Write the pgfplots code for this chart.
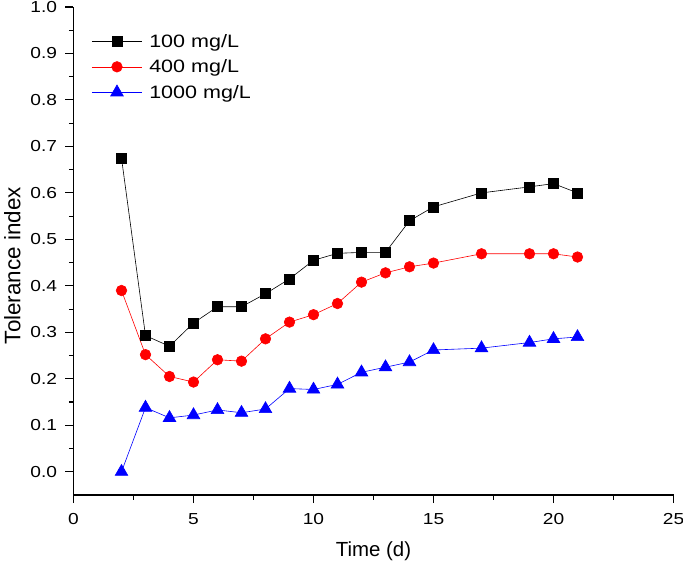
\documentclass[border=0pt]{standalone}
\usepackage{pgfplots}
\pgfplotsset{compat=1.18}
\usepackage{fontspec}
\setmainfont{Liberation Sans}
\newfontfamily\wide[FakeStretch=1.2]{Liberation Sans}
\begin{document}
\begin{tikzpicture}
\begin{axis}[
  scale only axis,
  width=600bp, height=488bp,
  xmin=0, xmax=25, ymin=-0.05, ymax=1.0,
  axis x line*=bottom, axis y line*=left,
  axis line style={line width=1.1bp, -},
  xtick={0,5,10,15,20,25},
  ytick={0,0.1,...,1.0},
  minor x tick num=1, minor y tick num=1,
  tick align=outside,
  major tick length=8bp, minor tick length=4.5bp,
  tick style={line width=1.1bp, black},
  /pgf/number format/assume math mode=true,
  yticklabel style={/pgf/number format/fixed, /pgf/number format/fixed zerofill, /pgf/number format/precision=1, xshift=-5bp},
  xticklabel style={yshift=-7bp},
  ticklabel style={font=\fontsize{16}{18}\wide},
  xlabel={Time (d)}, ylabel={Tolerance index},
  every axis x label/.style={at={(axis description cs:0.5,-0.115)}, anchor=center, font=\fontsize{20.5}{22}\selectfont},
  every axis y label/.style={at={(axis description cs:-0.102,0.47)}, anchor=center, rotate=90, font=\fontsize{22.5}{24}\selectfont},
  legend style={draw=none, fill=none, at={(0.025,0.953)}, anchor=north west,
    font=\fontsize{18}{20}\wide, row sep=7bp, nodes={inner xsep=7bp}},
  legend cell align=left,
  legend image code/.code={\draw[#1] (0bp,0bp) -- (50bp,0bp); \draw[#1, only marks] plot coordinates {(25bp,0bp)};},
]
\addplot[black, line width=0.6bp, mark=square*, mark size=5bp, mark options={solid}] coordinates {
(2,0.675) (3,0.293) (4,0.270) (5,0.320) (6,0.355) (7,0.355) (8,0.383) (9,0.415) (10,0.455) (11,0.470) (12,0.472) (13,0.472) (14,0.540) (15,0.570) (17,0.600) (19,0.613) (20,0.620) (21,0.600)};
\addlegendentry{100 mg/L}
\addplot[red, line width=0.6bp, mark=*, mark size=5.3bp, mark options={solid}] coordinates {
(2,0.390) (3,0.252) (4,0.205) (5,0.193) (6,0.241) (7,0.238) (8,0.286) (9,0.322) (10,0.338) (11,0.362) (12,0.408) (13,0.428) (14,0.441) (15,0.449) (17,0.469) (19,0.469) (20,0.469) (21,0.462)};
\addlegendentry{400 mg/L}
\addplot[blue, line width=0.6bp, mark=triangle*, mark size=7.3bp, mark options={solid}] coordinates {
(2,0.000) (3,0.138) (4,0.116) (5,0.122) (6,0.133) (7,0.127) (8,0.135) (9,0.179) (10,0.177) (11,0.188) (12,0.214) (13,0.225) (14,0.236) (15,0.262) (17,0.266) (19,0.278) (20,0.286) (21,0.290)};
\addlegendentry{1000 mg/L}
\end{axis}
\pgfresetboundingbox
\useasboundingbox (current axis.south west) ++(-73.5bp,-71bp) rectangle ([xshift=9.5bp,yshift=7bp]current axis.north east);
\end{tikzpicture}
\end{document}
